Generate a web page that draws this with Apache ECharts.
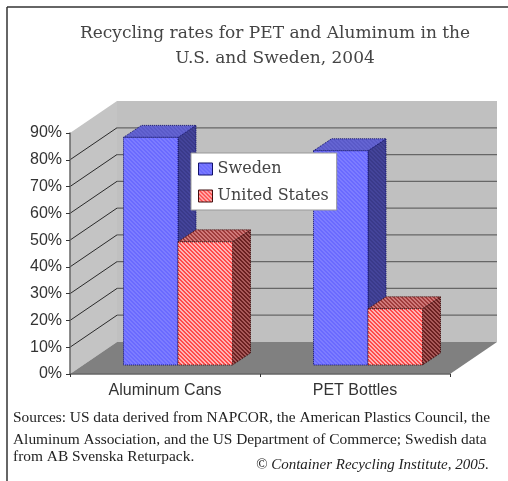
<!DOCTYPE html>
<html>
<head>
<meta charset="utf-8">
<title>Recycling rates</title>
<style>
  html, body { margin: 0; padding: 0; background: #fff; }
  #chart { width: 508px; height: 481px; filter: blur(0.6px); }
</style>
<script src="https://cdn.jsdelivr.net/npm/echarts@6/dist/echarts.min.js"></script>
</head>
<body>
<div id="chart"></div>
<script>
const categories = ['Aluminum Cans', 'PET Bottles'];
const sweden = [85, 80];
const unitedStates = [46, 21];
const yTicks = [0, 10, 20, 30, 40, 50, 60, 70, 80, 90];

const titleText = 'Recycling rates for PET and Aluminum in the\nU.S. and Sweden, 2004';
const sourceLines = [
  'Sources: US data derived from NAPCOR, the American Plastics Council, the',
  'Aluminum Association, and the US Department of Commerce; Swedish data',
  'from AB Svenska Returpack.'
];
const creditText = '\u00A9 Container Recycling Institute, 2005.';

// fake 3D offsets, in pixels
const WALL_DX = 47;
const WALL_DY = -32;
const BAR_DX = 13;
const BAR_DY = -9;
const DEPTH_DX = 18;
const DEPTH_DY = -12;
const BAR_W = 54.5;

// small repeating tile: diagonal stripes
function stripes(a, b, size) {
  const c = document.createElement('canvas');
  c.width = c.height = size;
  const ctx = c.getContext('2d');
  ctx.fillStyle = a;
  ctx.fillRect(0, 0, size, size);
  ctx.fillStyle = b;
  for (let i = 0; i < size; i++) {
    ctx.fillRect(i, i, 1, 1);
    ctx.fillRect((i + 1) % size, i, 1, 1);
  }
  return { image: c, repeat: 'repeat' };
}

const faces = [
  {
    front: stripes('#6a6aff', '#7d7dff', 4),
    side: stripes('#3a3a8a', '#44449a', 4),
    top: stripes('#5a5ac8', '#6464d2', 4),
    edge: '#10106a'
  },
  {
    front: stripes('#ffb4b4', '#ff4a4a', 4),
    side: stripes('#a85a5a', '#6a2020', 4),
    top: stripes('#d07a7a', '#a03c3c', 4),
    edge: '#401010'
  }
];

function renderWalls(params, api) {
  const g = params.coordSys;
  const left = g.x;
  const right = g.x + g.width;
  const bottom = g.y + g.height;
  const top = g.y;
  const children = [
    { type: 'polygon', shape: { points: [[left + WALL_DX, top + WALL_DY], [right + WALL_DX, top + WALL_DY], [right + WALL_DX, bottom + WALL_DY], [left + WALL_DX, bottom + WALL_DY]] }, style: { fill: '#c0c0c0' } },
    { type: 'polygon', shape: { points: [[left, top], [left + WALL_DX, top + WALL_DY], [left + WALL_DX, bottom + WALL_DY], [left, bottom]] }, style: { fill: '#c4c4c4' } },
    { type: 'polygon', shape: { points: [[left, bottom], [left + WALL_DX, bottom + WALL_DY], [right + WALL_DX, bottom + WALL_DY], [right, bottom]] }, style: { fill: '#808080' } }
  ];
  yTicks.slice(1, -1).forEach(function (t) {
    const y = api.coord([0, t])[1];
    children.push({ type: 'line', shape: { x1: left, y1: y, x2: left + WALL_DX, y2: y + WALL_DY }, style: { stroke: '#2a2a2a', lineWidth: 1 } });
    children.push({ type: 'line', shape: { x1: left + WALL_DX, y1: y + WALL_DY, x2: right + WALL_DX, y2: y + WALL_DY }, style: { stroke: '#666666', lineWidth: 1.3 } });
  });
  return { type: 'group', children: children };
}

function renderBar(seriesIndex) {
  return function (params, api) {
    const f = faces[seriesIndex];
    const base = api.coord([api.value(0), 0]);
    const head = api.coord([api.value(0), api.value(1)]);
    const x0 = base[0] + BAR_DX - BAR_W + seriesIndex * BAR_W;
    const x1 = x0 + BAR_W;
    const y0 = head[1] + BAR_DY;
    const y1 = base[1] + BAR_DY;
    const edge = { stroke: f.edge, lineWidth: 1, lineDash: [1, 1] };
    return {
      type: 'group',
      children: [
        { type: 'polygon', shape: { points: [[x1, y0], [x1 + DEPTH_DX, y0 + DEPTH_DY], [x1 + DEPTH_DX, y1 + DEPTH_DY], [x1, y1]] }, style: Object.assign({ fill: f.side }, edge) },
        { type: 'polygon', shape: { points: [[x0, y0], [x0 + DEPTH_DX, y0 + DEPTH_DY], [x1 + DEPTH_DX, y0 + DEPTH_DY], [x1, y0]] }, style: Object.assign({ fill: f.top }, edge) },
        { type: 'polygon', shape: { points: [[x0, y0], [x1, y0], [x1, y1], [x0, y1]] }, style: Object.assign({ fill: f.front }, edge) }
      ]
    };
  };
}

function barData(values) {
  return values.map(function (v, i) { return [i, v]; });
}

const sourceGraphics = sourceLines.map(function (line, i) {
  return {
    type: 'text',
    left: 13,
    top: [410, 432, 449][i],
    style: { text: line, fill: '#222', font: '15.4px "Liberation Serif"' }
  };
});

const chart = echarts.init(document.getElementById('chart'));
chart.setOption({
  animation: false,
  backgroundColor: '#ffffff',
  title: {
    text: titleText,
    left: 270,
    top: 16,
    textAlign: 'center',
    textStyle: { fontFamily: 'DejaVu Serif', fontWeight: 'normal', fontSize: 17, lineHeight: 25, color: '#444' }
  },
  legend: {
    orient: 'vertical',
    left: 191,
    top: 153,
    padding: [8, 8, 6, 7],
    itemGap: 11,
    itemWidth: 14,
    itemHeight: 12,
    backgroundColor: '#ffffff',
    borderColor: '#999999',
    borderWidth: 1,
    selectedMode: false,
    textStyle: { fontFamily: 'DejaVu Serif', fontSize: 16, color: '#444' },
    data: [
      { name: 'Sweden', icon: 'rect', itemStyle: { color: faces[0].front, borderColor: faces[0].edge, borderWidth: 1 } },
      { name: 'United States', icon: 'rect', itemStyle: { color: faces[1].front, borderColor: faces[1].edge, borderWidth: 1 } }
    ]
  },
  grid: { left: 70, top: 133, width: 380, height: 241 },
  xAxis: {
    type: 'category',
    data: categories,
    z: 3,
    axisLine: { lineStyle: { color: '#666', width: 1.5 } },
    axisTick: { show: true, length: 3, lineStyle: { color: '#333' } },
    axisLabel: { fontFamily: 'Liberation Sans', fontSize: 16, color: '#333', margin: 9 }
  },
  yAxis: {
    type: 'value',
    min: 0,
    max: 90,
    interval: 10,
    z: 3,
    splitLine: { show: false },
    axisLine: { show: true, lineStyle: { color: '#666', width: 1.5 } },
    axisTick: { show: true, length: 4, lineStyle: { color: '#333' } },
    axisLabel: { formatter: '{value}%', fontFamily: 'Liberation Sans', fontSize: 16, color: '#333', margin: 8 }
  },
  series: [
    { type: 'custom', name: 'walls', silent: true, z: 1, clip: false, renderItem: renderWalls, data: [[0, 0]] },
    { type: 'custom', name: 'Sweden', silent: true, z: 2, clip: false, renderItem: renderBar(0), encode: { x: 0, y: 1 }, data: barData(sweden) },
    { type: 'custom', name: 'United States', silent: true, z: 2, clip: false, renderItem: renderBar(1), encode: { x: 0, y: 1 }, data: barData(unitedStates) }
  ],
  graphic: [
    { type: 'line', shape: { x1: 7, y1: 7, x2: 508, y2: 7 }, style: { stroke: '#333', lineWidth: 1.5 } },
    { type: 'line', shape: { x1: 7, y1: 7, x2: 7, y2: 481 }, style: { stroke: '#333', lineWidth: 1.5 } }
  ].concat(sourceGraphics, [
    { type: 'text', left: 256, top: 458, style: { text: creditText, fill: '#222', font: 'italic 15px "Liberation Serif"' } }
  ])
});
</script>
</body>
</html>
